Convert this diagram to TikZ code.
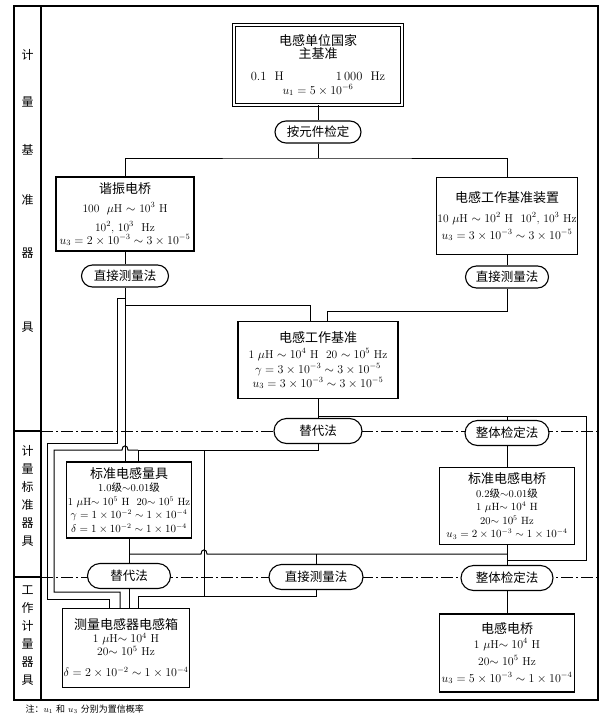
\documentclass[tikz,border=0pt]{standalone}
\usepackage{fontspec}
\newfontfamily\cjk{Noto Sans CJK SC}
\usetikzlibrary{shapes.misc,calc}
\newcommand\zh[1]{{\cjk #1}}
\newcommand\tit[1]{{\cjk\fontsize{13}{15}\selectfont #1}}
\begin{document}
\begin{tikzpicture}[x=1pt,y=-1pt,
  box/.style={draw, line width=1.1pt, fill=white, align=center, inner sep=1pt, font=\fontsize{11.5}{13}\selectfont},
  sbox/.style={box, font=\fontsize{10.5}{13.5}\selectfont},
  pill/.style={rounded rectangle, draw, line width=1.1pt, fill=white, inner sep=1pt, font=\cjk\fontsize{12.5}{14}\selectfont},
  conn/.style={line width=1pt},
  divline/.style={line width=0.8pt, dash pattern=on 12pt off 3pt on 2pt off 3pt},
  frameline/.style={line width=1.1pt},
  side/.style={font=\cjk\fontsize{12}{18}\selectfont, align=center}]
\useasboundingbox (0,0) rectangle (606,715);
% frame and column
\draw[frameline] (14,6) rectangle (598,700);
\draw[frameline] (41,6) -- (41,700);
% section dividers
\draw[frameline] (14,431) -- (41,431);
\draw[divline] (41,431) -- (598,431);
\draw[frameline] (14,577) -- (41,577);
\draw[divline] (41,577) -- (598,577);

% side labels
\node[side] (sa1) at (27.5,55) {计};
\node[side] (sa2) at (27.5,102) {量};
\node[side] (sa3) at (27.5,150) {基};
\node[side] (sa4) at (27.5,200) {准};
\node[side] (sa5) at (27.5,253) {器};
\node[side] (sa6) at (27.5,327) {具};
\node[side] (sb) at (27.5,496) {计\\量\\标\\准\\器\\具};
\node[side] (sc) at (27.5,636) {工\\作\\计\\量\\器\\具};

% boxes
\node[box, double, double distance=2.2pt, line width=0.9pt, minimum width=168, minimum height=80] (M) at (318,65)
  {\tit{电感单位国家}\\ \tit{主基准}\\[9pt] {\fontsize{12.5}{14}\selectfont 0.1\ \ H\hspace{52pt}1\,000\ \ Hz}\\[1pt] $u_1=5\times10^{-6}$};
\node[pill, minimum width=88, minimum height=22] (P0) at (318,132) {按元件检定};
\coordinate (J0) at (318,158);

\node[box, minimum width=138, minimum height=74] (B1) at (125,214)
  {\tit{谐振电桥}\\[6pt] 100\ \ $\mu$H $\sim$ 10$^3$\ H\\[6pt] 10$^2$, 10$^3$\ \ Hz\\ $u_3=2\times10^{-3}\sim3\times10^{-5}$};
\node[box, minimum width=140, minimum height=77] (B2) at (507,216)
  {\tit{电感工作基准装置}\\[7pt] 10 $\mu$H $\sim 10^2$ H\ \ 10$^2$, 10$^3$ Hz\\[4pt] $u_3=3\times10^{-3}\sim3\times10^{-5}$};
\node[pill, minimum width=89, minimum height=22] (P1L) at (125,276) {直接测量法};
\node[pill, minimum width=85, minimum height=22] (P1R) at (507,277) {直接测量法};

\node[box, minimum width=160, minimum height=77] (B3) at (318,360)
  {\tit{电感工作基准}\\[3pt] 1 $\mu$H $\sim 10^4$ H\ \ 20 $\sim 10^5$ Hz\\[2pt] $\gamma=3\times10^{-3}\sim3\times10^{-5}$\\[1pt] $u_3=3\times10^{-3}\sim3\times10^{-5}$};
\node[pill, minimum width=90, minimum height=25] (P2a) at (318,431) {替代法};
\node[pill, minimum width=86, minimum height=25] (P2b) at (507,433) {整体检定法};

\node[sbox, minimum width=125, minimum height=76] (B4) at (129,500)
  {\tit{标准电感量具}\\ 1.0\zh{级}$\sim$0.01\zh{级}\\ 1 $\mu$H$\sim10^5$ H\ \ 20$\sim10^5$ Hz\\ $\gamma=1\times10^{-2}\sim1\times10^{-4}$\\ $\delta=1\times10^{-2}\sim1\times10^{-4}$};
\node[sbox, minimum width=135, minimum height=77] (B5) at (507,506)
  {\tit{标准电感电桥}\\ 0.2\zh{级}$\sim$0.01\zh{级}\\ 1 $\mu$H$\sim10^4$ H\\ 20$\sim10^5$ Hz\\ $u_3=2\times10^{-3}\sim1\times10^{-4}$};

\node[pill, minimum width=85, minimum height=25] (P3a) at (129,576) {替代法};
\node[pill, minimum width=96, minimum height=25] (P3b) at (316,577) {直接测量法};
\node[pill, minimum width=94, minimum height=25] (P3c) at (507,578) {整体检定法};

\node[box, minimum width=125, minimum height=79] (B6) at (126,648)
  {\tit{测量电感器电感箱}\\ 1 $\mu$H$\sim10^4$ H\\ 20$\sim10^5$ Hz\\[8pt] $\delta=2\times10^{-2}\sim1\times10^{-4}$};
\node[box, minimum width=135, minimum height=78] (B7) at (507,653)
  {\tit{电感电桥}\\[2pt] 1 $\mu$H$\sim10^4$ H\\[4pt] 20$\sim10^5$ Hz\\[4pt] $u_3=5\times10^{-3}\sim1\times10^{-4}$};

\node[anchor=west, font=\fontsize{9}{10}\selectfont] (note) at (22,709)
  {\zh{注：}$u_1$ \zh{和} $u_3$ \zh{分别为置信概率}};

% connectors: top
\draw[conn] (M.south) -- (P0.north);
\draw[conn] (P0.south) -- (J0);
\draw[conn] (B1.north) |- (J0) -| (B2.north);
\draw[conn] (B1.south) -- (P1L.north);
\draw[conn] (B2.south) -- (P1R.north);

% direct measurement chains into working standard
\coordinate (L0) at (125,298);
\coordinate (L1) at (125,305);
\coordinate (L2) at (310,305);
\coordinate (R1) at (507,311);
\coordinate (R2) at (327,311);
\draw[conn] (P1L.south) -- (L1) -- (L2) -- (L2 |- B3.north);
\draw[conn] (L1) -- (L1 |- B4.north);
\draw[conn] (P1R.south) -- (R1) -- (R2) -- (R2 |- B3.north);

% outer left rail
\coordinate (L3) at (117,298);
\coordinate (L4) at (47,443);
\coordinate (L5) at (109,599);
\draw[conn] (L0) -- (L3) |- (L4) |- (L5) -- (L5 |- B6.north);

% working standard to row-1 methods
\coordinate (K3) at (318,416);
\coordinate (K4) at (586,416);
\coordinate (K5) at (507,560);
\draw[conn] (B3.south) -- (P2a.north);
\draw[conn] (K3) -- (K4) |- (K5);
\draw[conn] (P2b.north |- K3) -- (P2b.north);
\draw[conn] (P2b.south) -- (B5.north);

% substitution chain
\coordinate (S1) at (318,450);
\coordinate (S2) at (138,450);
\coordinate (S3) at (54,450);
\coordinate (S4) at (120,592);
\coordinate (S5) at (204,450);
\draw[conn] (P2a.south) -- (S1) -- (S2) -- (S2 |- B4.north);
\draw[conn] (S2) -- (128,450) .. controls (128,444.5) and (122,444.5) .. (122,450) -- (S3) |- (S4) -- (S4 |- B6.north);

% row 2
\coordinate (U1) at (129,554);
\coordinate (U2) at (507,554);
\coordinate (U3) at (316,554);
\coordinate (T1) at (138,596);
\draw[conn] (B4.south) -- (P3a.north);
\draw[conn] (B5.south) -- (P3c.north);
\draw[conn] (U1) -- (201,554) .. controls (201,548.5) and (207,548.5) .. (207,554) -- (U2);
\draw[conn] (U3) -- (P3b.north);
\draw[conn] (S5) -- (S5 |- T1);
\draw[conn] (P3b.south) |- (T1) -- (T1 |- B6.north);
\draw[conn] (P3a.south) -- (P3a.south |- B6.north);
\draw[conn] (P3c.south) -- (P3c.south |- B7.north);
\end{tikzpicture}
\end{document}
